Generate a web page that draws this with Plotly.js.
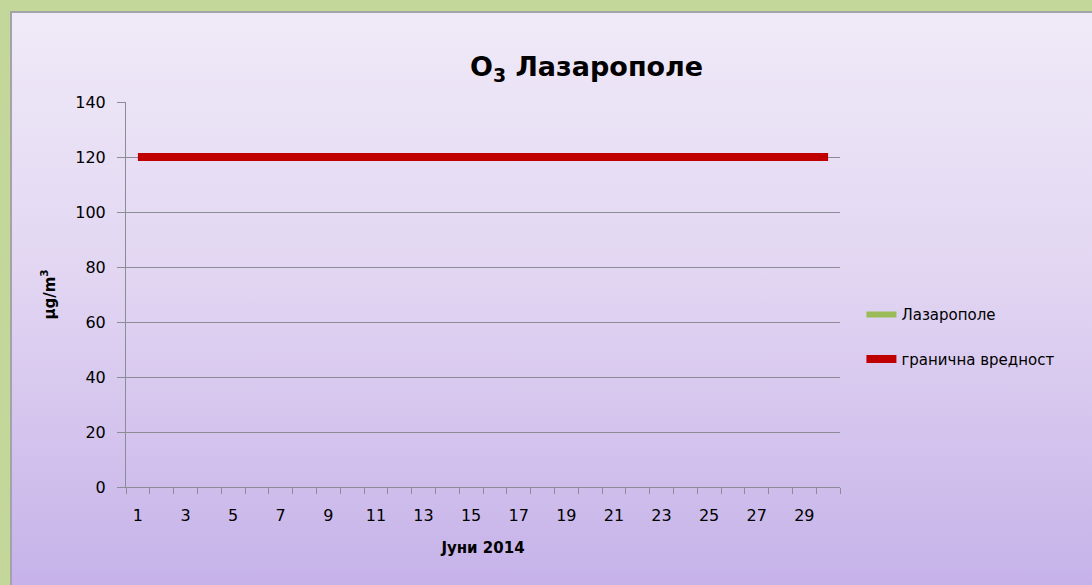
<!DOCTYPE html>
<html>
<head>
<meta charset="utf-8">
<script src="https://cdn.plot.ly/plotly-3.0.1.min.js"></script>
<style>
  body { margin: 0; background: #c4d79b; width: 1092px; height: 585px; overflow: hidden; }
  #frame {
    position: absolute; left: 10px; top: 11px; width: 1082px; height: 574px;
    border-top: 2px solid #a3a3a8; border-left: 2px solid #a3a3a8;
    background: linear-gradient(to bottom, #f0eaf8 0%, #e2d6f2 45%, #c6b2e9 100%);
  }
  #plotArea { width: 1080px; height: 572px; }
</style>
</head>
<body>
<div id="frame"><div id="plotArea"></div></div>
<script>
// June 2014, days 1..30
var days = [1,2,3,4,5,6,7,8,9,10,11,12,13,14,15,16,17,18,19,20,21,22,23,24,25,26,27,28,29,30];
// measured O3 at Lazaropole - no data in the chart
var lazaropole = [null,null,null,null,null,null,null,null,null,null,null,null,null,null,null,
                  null,null,null,null,null,null,null,null,null,null,null,null,null,null,null];
// limit value
var limitValue = [120,120,120,120,120,120,120,120,120,120,120,120,120,120,120,
                  120,120,120,120,120,120,120,120,120,120,120,120,120,120,120];
var xTickLabels = [1,3,5,7,9,11,13,15,17,19,21,23,25,27,29];
var boundaryTicks = [0.5,1.5,2.5,3.5,4.5,5.5,6.5,7.5,8.5,9.5,10.5,11.5,12.5,13.5,14.5,15.5,
                     16.5,17.5,18.5,19.5,20.5,21.5,22.5,23.5,24.5,25.5,26.5,27.5,28.5,29.5,30.5];

var font = 'DejaVu Sans';

var trace1 = {
    x: days,
    y: lazaropole,
    name: 'Лазарополе',
    mode: 'lines',
    line: { color: '#9bbb59', width: 6 },
    legendgroup: 'a'
};

var trace2 = {
    x: days,
    y: limitValue,
    name: 'гранична вредност',
    mode: 'lines',
    line: { color: '#c00000', width: 8 },
    legendgroup: 'b'
};

// empty trace only to carry tick marks between days
var tickTrace = {
    x: [0.5], y: [null], xaxis: 'x2', showlegend: false, hoverinfo: 'skip'
};

var data = [trace1, trace2, tickTrace];

var layout = {
    width: 1080,
    height: 572,
    paper_bgcolor: 'rgba(0,0,0,0)',
    plot_bgcolor: 'rgba(0,0,0,0)',
    margin: { l: 114, r: 252, t: 89, b: 98 },
    font: { family: font, color: '#000', size: 16 },
    title: {
        text: '<b>O<sub>3</sub> Лазарополе</b>',
        font: { size: 27, family: font },
        xref: 'container', x: 0.532, xanchor: 'center',
        yref: 'container', y: 0.906, yanchor: 'middle'
    },
    xaxis: {
        range: [0.5, 30.5],
        tickvals: xTickLabels,
        ticks: '',
        showgrid: false,
        zeroline: false,
        showline: true,
        linecolor: '#8c8c96',
        linewidth: 1,
        tickfont: { size: 16 },
        ticklabelstandoff: 14,
        title: { text: '<b>Јуни 2014</b>', font: { size: 15 }, standoff: 18 }
    },
    xaxis2: {
        range: [0.5, 30.5],
        overlaying: 'x',
        anchor: 'y',
        side: 'bottom',
        tickvals: boundaryTicks,
        ticks: 'outside',
        ticklen: 6,
        tickcolor: '#8c8c96',
        showticklabels: false,
        showgrid: false,
        zeroline: false
    },
    yaxis: {
        range: [0, 140],
        dtick: 20,
        ticks: 'outside',
        ticklen: 8,
        tickcolor: '#8c8c96',
        showgrid: true,
        gridcolor: '#8c8c96',
        gridwidth: 1,
        zeroline: false,
        showline: true,
        linecolor: '#8c8c96',
        tickfont: { size: 16 },
        ticklabelstandoff: 8,
        title: { text: '<b>μg/m<sup>3</sup></b>', font: { size: 15 }, standoff: 16 }
    },
    showlegend: true,
    legend: {
        x: 1.03, xanchor: 'left',
        y: 0.49, yanchor: 'top',
        bgcolor: 'rgba(0,0,0,0)',
        font: { size: 15 },
        traceorder: 'grouped',
        tracegroupgap: 22,
        itemwidth: 30
    }
};

Plotly.newPlot('plotArea', data, layout, { displayModeBar: false, staticPlot: true });
</script>
</body>
</html>
